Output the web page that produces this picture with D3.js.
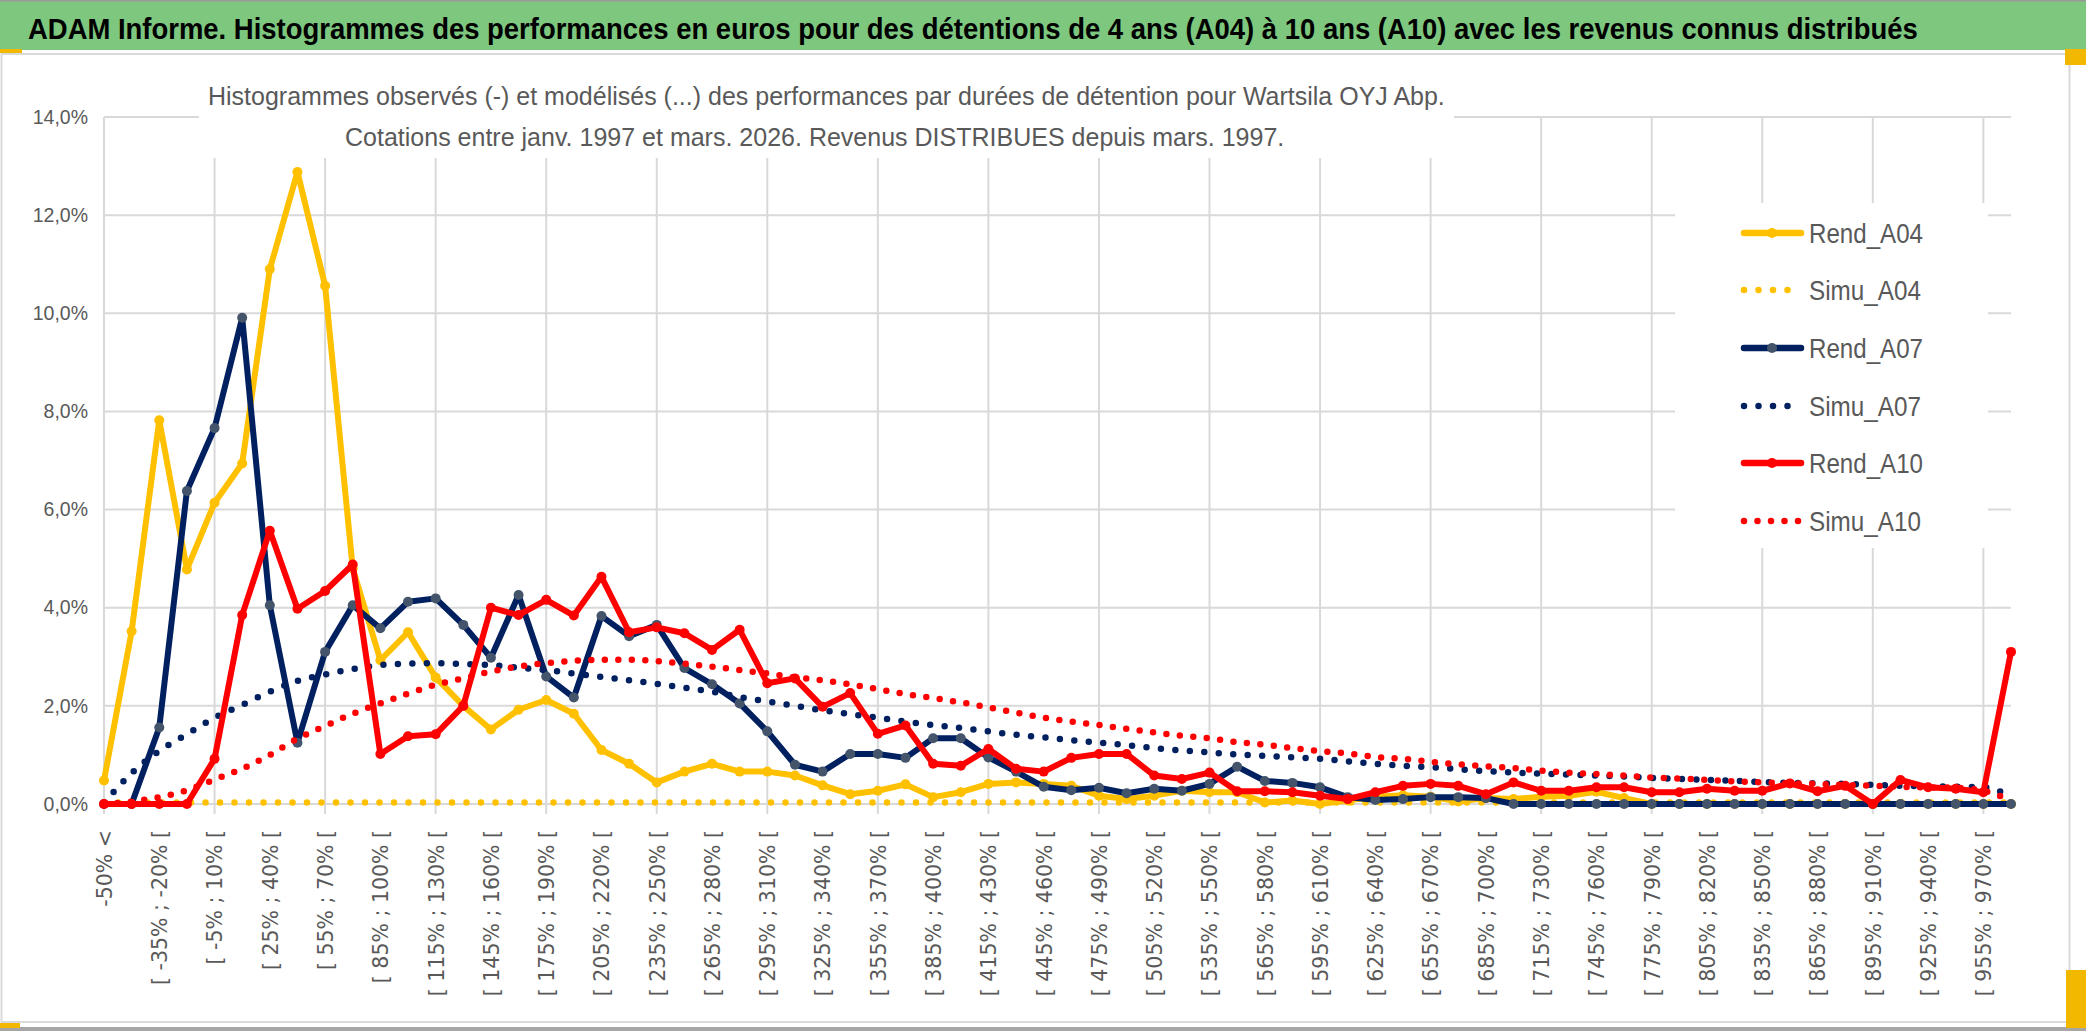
<!DOCTYPE html>
<html>
<head>
<meta charset="utf-8">
<script src="https://cdn.jsdelivr.net/npm/d3@7"></script>
<style>
  html, body { margin: 0; padding: 0; background: #ffffff; }
  svg { display: block; }
</style>
</head>
<body>
<svg id="chart" width="2086" height="1031"></svg>
<script>
// ---------------- DATA ----------------
const categories = [
  "-50% <", "[ -50% ; -35% [", "[ -35% ; -20% [", "[ -20% ; -5% [", "[ -5% ; 10% [",
  "[ 10% ; 25% [", "[ 25% ; 40% [", "[ 40% ; 55% [", "[ 55% ; 70% [", "[ 70% ; 85% [",
  "[ 85% ; 100% [", "[ 100% ; 115% [", "[ 115% ; 130% [", "[ 130% ; 145% [", "[ 145% ; 160% [",
  "[ 160% ; 175% [", "[ 175% ; 190% [", "[ 190% ; 205% [", "[ 205% ; 220% [", "[ 220% ; 235% [",
  "[ 235% ; 250% [", "[ 250% ; 265% [", "[ 265% ; 280% [", "[ 280% ; 295% [", "[ 295% ; 310% [",
  "[ 310% ; 325% [", "[ 325% ; 340% [", "[ 340% ; 355% [", "[ 355% ; 370% [", "[ 370% ; 385% [",
  "[ 385% ; 400% [", "[ 400% ; 415% [", "[ 415% ; 430% [", "[ 430% ; 445% [", "[ 445% ; 460% [",
  "[ 460% ; 475% [", "[ 475% ; 490% [", "[ 490% ; 505% [", "[ 505% ; 520% [", "[ 520% ; 535% [",
  "[ 535% ; 550% [", "[ 550% ; 565% [", "[ 565% ; 580% [", "[ 580% ; 595% [", "[ 595% ; 610% [",
  "[ 610% ; 625% [", "[ 625% ; 640% [", "[ 640% ; 655% [", "[ 655% ; 670% [", "[ 670% ; 685% [",
  "[ 685% ; 700% [", "[ 700% ; 715% [", "[ 715% ; 730% [", "[ 730% ; 745% [", "[ 745% ; 760% [",
  "[ 760% ; 775% [", "[ 775% ; 790% [", "[ 790% ; 805% [", "[ 805% ; 820% [", "[ 820% ; 835% [",
  "[ 835% ; 850% [", "[ 850% ; 865% [", "[ 865% ; 880% [", "[ 880% ; 895% [", "[ 895% ; 910% [",
  "[ 910% ; 925% [", "[ 925% ; 940% [", "[ 940% ; 955% [", "[ 955% ; 970% [", "970% <"
];

// values in percent
const rendA04 = [
  0.48, 3.52, 7.82, 4.78, 6.14, 6.94, 10.9, 12.88, 10.56, 4.8,
  2.93, 3.5, 2.58, 2.0, 1.52, 1.92, 2.12, 1.84, 1.1, 0.82,
  0.44, 0.66, 0.82, 0.66, 0.66, 0.58, 0.38, 0.2, 0.27, 0.4,
  0.14, 0.24, 0.41, 0.44, 0.41, 0.37, 0.17, 0.1, 0.17, 0.27,
  0.24, 0.24, 0.03, 0.07, 0.0, 0.07, 0.15, 0.18, 0.15, 0.05,
  0.12, 0.1, 0.15, 0.17, 0.25, 0.12, 0, 0, 0, 0,
  0, 0, 0, 0, 0, 0, 0, 0, 0, 0
];
const simuA04 = [
  0.03, 0.03, 0.03, 0.03, 0.03, 0.03, 0.03, 0.03, 0.03, 0.03,
  0.03, 0.03, 0.03, 0.03, 0.03, 0.03, 0.03, 0.03, 0.03, 0.03,
  0.03, 0.03, 0.03, 0.03, 0.03, 0.03, 0.03, 0.03, 0.03, 0.03,
  0.03, 0.03, 0.03, 0.03, 0.03, 0.03, 0.03, 0.03, 0.03, 0.03,
  0.03, 0.03, 0.03, 0.03, 0.03, 0.03, 0.03, 0.03, 0.03, 0.03,
  0.03, 0.03, 0.03, 0.03, 0.03, 0.03, 0.03, 0.03, 0.03, 0.03,
  0.03, 0.03, 0.03, 0.03, 0.03, 0.03, 0.03, 0.03, 0.03, 0.03
];
const rendA07 = [
  0, 0, 1.56, 6.38, 7.66, 9.91, 4.05, 1.25, 3.1, 4.05,
  3.58, 4.12, 4.19, 3.65, 2.98, 4.26, 2.6, 2.17, 3.83, 3.42,
  3.65, 2.77, 2.44, 2.05, 1.48, 0.8, 0.66, 1.02, 1.02, 0.94,
  1.34, 1.34, 0.95, 0.66, 0.35, 0.28, 0.33, 0.22, 0.31, 0.27,
  0.41, 0.76, 0.47, 0.43, 0.34, 0.14, 0.08, 0.1, 0.14, 0.14,
  0.12, 0, 0, 0, 0, 0, 0, 0, 0, 0,
  0, 0, 0, 0, 0, 0, 0, 0, 0, 0
];
const simuA07 = [
  0.02, 0.63, 1.08, 1.42, 1.76, 2.02, 2.29, 2.51, 2.64, 2.75,
  2.83, 2.86, 2.87, 2.85, 2.83, 2.78, 2.73, 2.66, 2.59, 2.52,
  2.45, 2.37, 2.29, 2.18, 2.09, 2.0, 1.91, 1.83, 1.76, 1.68,
  1.61, 1.55, 1.48, 1.41, 1.36, 1.3, 1.25, 1.2, 1.14, 1.09,
  1.05, 1.01, 0.98, 0.95, 0.92, 0.87, 0.82, 0.78, 0.75, 0.71,
  0.67, 0.64, 0.62, 0.6, 0.58, 0.56, 0.53, 0.51, 0.49, 0.47,
  0.45, 0.43, 0.42, 0.41, 0.39, 0.37, 0.36, 0.35, 0.34, 0.15
];
const rendA10 = [
  0, 0, 0, 0, 0.92, 3.85, 5.57, 3.98, 4.34, 4.88,
  1.02, 1.38, 1.42, 2.0, 4.0, 3.85, 4.16, 3.84, 4.63, 3.5,
  3.6, 3.48, 3.14, 3.55, 2.46, 2.56, 1.98, 2.26, 1.43, 1.6,
  0.82, 0.78, 1.12, 0.72, 0.66, 0.94, 1.02, 1.02, 0.58, 0.51,
  0.64, 0.26, 0.26, 0.24, 0.17, 0.1, 0.24, 0.37, 0.41, 0.37,
  0.2, 0.44, 0.27, 0.27, 0.34, 0.34, 0.24, 0.24, 0.31, 0.27,
  0.27, 0.42, 0.26, 0.37, 0.0, 0.49, 0.34, 0.31, 0.24, 3.1
];
const simuA10 = [
  0.0, 0.05, 0.14, 0.28, 0.5, 0.72, 1.0, 1.33, 1.59, 1.84,
  2.05, 2.25, 2.43, 2.56, 2.7, 2.8, 2.87, 2.92, 2.94, 2.94,
  2.91, 2.86, 2.8, 2.73, 2.66, 2.58, 2.52, 2.44, 2.34, 2.24,
  2.16, 2.07, 1.97, 1.86, 1.76, 1.68, 1.61, 1.53, 1.46, 1.39,
  1.34, 1.26, 1.21, 1.14, 1.08, 1.03, 0.96, 0.92, 0.86, 0.81,
  0.77, 0.73, 0.68, 0.64, 0.61, 0.58, 0.54, 0.52, 0.49, 0.46,
  0.44, 0.42, 0.41, 0.39, 0.37, 0.35, 0.34, 0.33, 0.27, 0.07
];

const yTicks = [0, 2, 4, 6, 8, 10, 12, 14];
const yTickLabels = ["0,0%", "2,0%", "4,0%", "6,0%", "8,0%", "10,0%", "12,0%", "14,0%"];

const titleText = "ADAM Informe. Histogrammes des performances en euros pour des détentions de 4 ans (A04) à 10 ans (A10) avec les revenus connus distribués";
const subtitle1 = "Histogrammes observés (-) et modélisés (...) des performances par durées de détention pour Wartsila OYJ Abp.";
const subtitle2 = "Cotations entre janv. 1997 et mars. 2026. Revenus DISTRIBUES depuis mars. 1997.";

// series table (built from the arrays above)
const series = [
  { name: "Rend_A04", values: rendA04, kind: "rend", color: "#FFC000", marker: "#FFC000" },
  { name: "Simu_A04", values: simuA04, kind: "simu", color: "#FFC000", gap: 14.5 },
  { name: "Rend_A07", values: rendA07, kind: "rend", color: "#002060", marker: "#44546A" },
  { name: "Simu_A07", values: simuA07, kind: "simu", color: "#002060", gap: 14.5 },
  { name: "Rend_A10", values: rendA10, kind: "rend", color: "#FF0000", marker: "#FF0000" },
  { name: "Simu_A10", values: simuA10, kind: "simu", color: "#FF0000", gap: 13.5 }
];

// ---------------- DRAW ----------------
const W = 2086, H = 1031;
const svg = d3.select("#chart");
const FONT = "'Liberation Sans', Arial, sans-serif";
const GRAY_TXT = "#595959";
const GRID = "#D9D9D9";

const x = d3.scalePoint().domain(categories).range([104, 2011]);
const y = d3.scaleLinear().domain([0, 14]).range([804, 117]);

// place a text at (px, py) horizontally condensed to a target width (narrow-font look)
function condensedText(parent, str, px, py, target, anchor) {
  const t = parent.append("text").attr("x", 0).attr("y", 0).text(str);
  return { node: t, place: () => {
    const nat = t.node().getComputedTextLength();
    const sx = Math.min(1, target / nat);
    let ox = px;
    if (anchor === "end") { t.attr("text-anchor", "end"); }
    t.attr("transform", "translate(" + ox + "," + py + ") scale(" + sx + ",1)");
    return t;
  }};
}

// background
svg.append("rect").attr("x", 0).attr("y", 0).attr("width", W).attr("height", H).attr("fill", "#ffffff");

// chart frame
svg.append("rect").attr("x", 1.5).attr("y", 54).attr("width", 2068).attr("height", 968)
  .attr("fill", "none").attr("stroke", GRID).attr("stroke-width", 2);
svg.append("rect").attr("x", 0).attr("y", 1027).attr("width", W).attr("height", 4).attr("fill", "#A6A6A6");

// banner
svg.append("rect").attr("x", 0).attr("y", 0).attr("width", W).attr("height", 50).attr("fill", "#7DC77F");
svg.append("rect").attr("x", 0).attr("y", 0).attr("width", W).attr("height", 1.5).attr("fill", "#9a9a9a");
const title = condensedText(svg, titleText, 28, 39, 1890);
title.node.attr("font-family", FONT).attr("font-weight", "bold").attr("font-size", 30).attr("fill", "#000000");
title.place();

// selection handles (small yellow marks)
svg.append("rect").attr("x", 0).attr("y", 49).attr("width", 22).attr("height", 4).attr("fill", "#F2B800");
svg.append("rect").attr("x", 2065).attr("y", 49).attr("width", 21).attr("height", 16).attr("fill", "#F2B800");
svg.append("rect").attr("x", 0).attr("y", 1023).attr("width", 20).attr("height", 5).attr("fill", "#F2B800");
svg.append("rect").attr("x", 2066).attr("y", 970).attr("width", 20).attr("height", 58).attr("fill", "#F2B800");

// gridlines
const grid = svg.append("g");
grid.selectAll("line.h").data(yTicks).join("line")
  .attr("x1", 104).attr("x2", 2011)
  .attr("y1", d => y(d)).attr("y2", d => y(d))
  .attr("stroke", GRID).attr("stroke-width", 2);
grid.selectAll("line.v").data(categories.filter((d, i) => i % 4 === 0)).join("line")
  .attr("x1", d => x(d)).attr("x2", d => x(d))
  .attr("y1", y(14)).attr("y2", y(0) + 10)
  .attr("stroke", GRID).attr("stroke-width", 2);

// boxes of subtitle and legend mask gridlines
svg.append("rect").attr("x", 199).attr("y", 56).attr("width", 1255).attr("height", 102).attr("fill", "#ffffff");
svg.append("rect").attr("x", 1675).attr("y", 203).attr("width", 313).attr("height", 345).attr("fill", "#ffffff");

// subtitle
const st1 = condensedText(svg, subtitle1, 208, 105, 1237);
st1.node.attr("font-family", FONT).attr("font-size", 26).attr("fill", GRAY_TXT);
st1.place();
const st2 = condensedText(svg, subtitle2, 345, 146, 940);
st2.node.attr("font-family", FONT).attr("font-size", 26).attr("fill", GRAY_TXT);
st2.place();

// y axis labels
const yAxis = svg.append("g").attr("transform", "translate(104,0)")
  .call(d3.axisLeft(y).tickValues(yTicks).tickFormat((d, i) => yTickLabels[i]).tickSize(0).tickPadding(16));
yAxis.select(".domain").remove();
yAxis.selectAll("text")
  .attr("font-family", FONT).attr("font-size", 19.5).attr("fill", GRAY_TXT)
  .each(function(d) {
    const el = d3.select(this);
    const target = d >= 10 ? 56 : 45;
    const nat = this.getComputedTextLength();
    const sx = Math.min(1, target / nat);
    el.attr("x", 0).attr("transform", "translate(-16,0) scale(" + sx + ",1)");
  });

// x axis labels
const xAxis = svg.append("g").attr("transform", "translate(0," + y(0) + ")")
  .call(d3.axisBottom(x).tickValues(categories.filter((d, i) => i % 2 === 0)).tickSize(0));
xAxis.select(".domain").remove();
xAxis.selectAll("text")
  .attr("font-family", "'DejaVu Sans', Verdana, sans-serif").attr("font-size", 20.5)
  .attr("fill", GRAY_TXT)
  .attr("transform", "rotate(-90)")
  .attr("text-anchor", "end")
  .attr("x", -26).attr("y", 0).attr("dy", "0.36em");

// series
const plot = svg.append("g");
const lineLin = d3.line().x((d, i) => x(categories[i])).y(d => y(d));
const lineSmooth = d3.line().x((d, i) => x(categories[i])).y(d => y(d)).curve(d3.curveMonotoneX);

series.forEach(s => {
  const g = plot.append("g");
  if (s.kind === "rend") {
    g.append("path").attr("d", lineLin(s.values))
      .attr("fill", "none").attr("stroke", s.color).attr("stroke-width", 6)
      .attr("stroke-linejoin", "round").attr("stroke-linecap", "round");
    g.selectAll("circle").data(s.values).join("circle")
      .attr("cx", (d, i) => x(categories[i])).attr("cy", d => y(d))
      .attr("r", 5).attr("fill", s.marker);
  } else {
    g.append("path").attr("d", lineSmooth(s.values))
      .attr("fill", "none").attr("stroke", s.color).attr("stroke-width", 6.5)
      .attr("stroke-linecap", "round").attr("stroke-dasharray", "0 " + s.gap);
  }
});

// legend
const legendRows = [233, 290, 348, 406, 463, 521];
const legend = svg.append("g");
series.forEach((s, i) => {
  const cy = legendRows[i];
  if (s.kind === "rend") {
    legend.append("line").attr("x1", 1744).attr("x2", 1801).attr("y1", cy).attr("y2", cy)
      .attr("stroke", s.color).attr("stroke-width", 6.5).attr("stroke-linecap", "round");
    legend.append("circle").attr("cx", 1772).attr("cy", cy).attr("r", 5).attr("fill", s.marker);
  } else {
    legend.append("line").attr("x1", 1744).attr("x2", 1800).attr("y1", cy).attr("y2", cy)
      .attr("stroke", s.color).attr("stroke-width", 6.5).attr("stroke-linecap", "round")
      .attr("stroke-dasharray", "0 " + s.gap);
  }
  const t = condensedText(legend, s.name, 1809, cy + 10, s.kind === "rend" ? 114 : 112);
  t.node.attr("font-family", FONT).attr("font-size", 27.5).attr("fill", GRAY_TXT);
  t.place();
});
</script>
</body>
</html>
